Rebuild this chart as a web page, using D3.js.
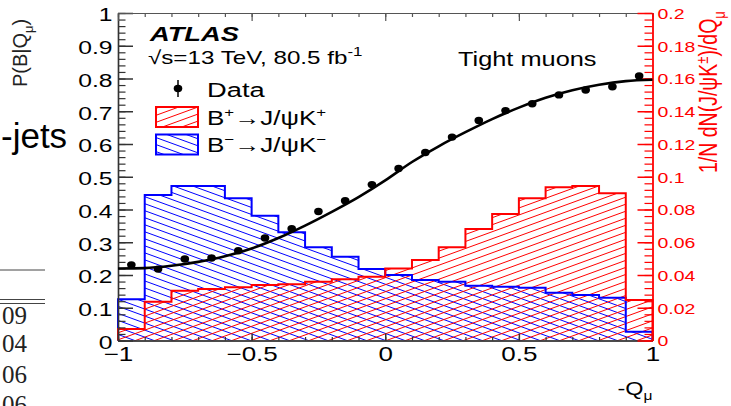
<!DOCTYPE html>
<meta charset="utf-8">
<style>
body { margin: 0; background: #fff; }
svg { display: block; font-family: "Liberation Sans", Arial, sans-serif; }
text.page { font-family: "Liberation Serif", "DejaVu Serif", serif; font-size: 25px; fill: #222; }
</style>
<svg width="731" height="406"></svg>
<script src="https://cdnjs.cloudflare.com/ajax/libs/d3/7.8.5/d3.min.js"></script>
<script>

// bins in -Q_mu
var binEdges = [-1, -0.9, -0.8, -0.7, -0.6, -0.5, -0.4, -0.3, -0.2, -0.1, 0,
                0.1, 0.2, 0.3, 0.4, 0.5, 0.6, 0.7, 0.8, 0.9, 1];
var binCenters = [-0.95, -0.85, -0.75, -0.65, -0.55, -0.45, -0.35, -0.25, -0.15, -0.05,
                  0.05, 0.15, 0.25, 0.35, 0.45, 0.55, 0.65, 0.75, 0.85, 0.95];

// P(B|Q_mu), left axis
var dataP = [0.231, 0.218, 0.249, 0.252, 0.274, 0.313, 0.341, 0.394, 0.427, 0.476,
             0.525, 0.574, 0.621, 0.672, 0.702, 0.723, 0.750, 0.765, 0.775, 0.808];

// 1/N dN/dQ, right axis
var bPlus  = [0.0070, 0.0237, 0.0304, 0.0315, 0.0325, 0.0339, 0.0343, 0.0359, 0.0374, 0.0390,
              0.0440, 0.0492, 0.0569, 0.0681, 0.0773, 0.0868, 0.0936, 0.0943, 0.0899, 0.0247];
var bMinus = [0.0252, 0.0889, 0.0943, 0.0943, 0.0868, 0.0762, 0.0661, 0.0569, 0.0512, 0.0437,
              0.0400, 0.0369, 0.0359, 0.0335, 0.0329, 0.0322, 0.0292, 0.0278, 0.0261, 0.0054];

// fitted curve
var fitX = [-1, -0.9, -0.8, -0.7, -0.6, -0.5, -0.4, -0.3, -0.2, -0.1, 0,
            0.1, 0.2, 0.3, 0.4, 0.5, 0.6, 0.7, 0.8, 0.9, 1];
var fitY = [0.220, 0.221, 0.228, 0.240, 0.257, 0.281, 0.313, 0.351, 0.393, 0.438, 0.489,
            0.545, 0.593, 0.636, 0.676, 0.711, 0.741, 0.764, 0.781, 0.792, 0.796];

var leftTicks = [0, 0.1, 0.2, 0.3, 0.4, 0.5, 0.6, 0.7, 0.8, 0.9, 1];
var leftLabels = ["0", "0.1", "0.2", "0.3", "0.4", "0.5", "0.6", "0.7", "0.8", "0.9", "1"];
var rightTicks = [0, 0.02, 0.04, 0.06, 0.08, 0.1, 0.12, 0.14, 0.16, 0.18, 0.2];
var rightLabels = ["0", "0.02", "0.04", "0.06", "0.08", "0.1", "0.12", "0.14", "0.16", "0.18", "0.2"];
var bottomTicks = [-1, -0.5, 0, 0.5, 1];
var bottomLabels = ["\u22121", "\u22120.5", "0", "0.5", "1"];

var svg = d3.select("svg"),
    frame = {left: 118, right: 652.5, top: 13, bottom: 340.5},
    sx = 1.3; // the reference image is stretched sideways, so text is too

var x = d3.scaleLinear().domain([-1, 1]).range([frame.left, frame.right]),
    yL = d3.scaleLinear().domain([0, 1]).range([frame.bottom, frame.top]),
    yR = d3.scaleLinear().domain([0, 0.2]).range([frame.bottom, frame.top]);

var defs = svg.append("defs");
function hatch(id, color, angle) {
  defs.append("pattern")
      .attr("id", id)
      .attr("patternUnits", "userSpaceOnUse")
      .attr("width", 14).attr("height", 6.6)
      .attr("patternTransform", "rotate(" + angle + ")")
    .append("line")
      .attr("x1", 0).attr("x2", 14).attr("y1", 3.3).attr("y2", 3.3)
      .attr("stroke", color).attr("stroke-width", 1);
}
hatch("hatchRed", "#f00", -20);
hatch("hatchBlue", "#00f", 20);

// stretched text helper
function stext(g, px, py, size, opts) {
  opts = opts || {};
  var t = g.append("text")
      .attr("transform", "translate(" + px + "," + py + ") scale(" + (opts.sx || sx) + ",1)" + (opts.rot ? " rotate(" + opts.rot + ")" : ""))
      .style("font-size", size + "px")
      .attr("fill", opts.fill || "#000");
  if (opts.anchor) t.attr("text-anchor", opts.anchor);
  return t;
}

// ---- histograms
function histPoints(vals) {
  var pts = [[binEdges[0], 0]];
  vals.forEach(function(v, i) { pts.push([binEdges[i], v]); });
  pts.push([binEdges[vals.length], vals[vals.length - 1]]);
  pts.push([binEdges[vals.length], 0]);
  return pts;
}
var histLine = d3.line()
    .x(function(d) { return x(d[0]); })
    .y(function(d) { return yR(d[1]); })
    .curve(d3.curveStepAfter);

svg.append("path").attr("d", histLine(histPoints(bMinus)) + "Z").attr("fill", "url(#hatchBlue)");
svg.append("path").attr("d", histLine(histPoints(bPlus)) + "Z").attr("fill", "url(#hatchRed)");
svg.append("path").attr("d", histLine(histPoints(bMinus)))
    .attr("fill", "none").attr("stroke", "#00f").attr("stroke-width", 2);
svg.append("path").attr("d", histLine(histPoints(bPlus)))
    .attr("fill", "none").attr("stroke", "#f00").attr("stroke-width", 2);

// ---- axes
function styleAxis(g, color, width) {
  g.attr("font-family", null).attr("font-size", null);
  g.selectAll("path, line").attr("stroke", color).attr("stroke-width", width);
}

// left
var gLm = svg.append("g").attr("transform", "translate(" + frame.left + ",0)")
    .call(d3.axisLeft(yL).tickValues(d3.range(0, 1.001, 0.02)).tickSizeInner(-7.5).tickSizeOuter(0).tickFormat(""));
styleAxis(gLm, "#333", 1.2);
var gL = svg.append("g").attr("transform", "translate(" + frame.left + ",0)")
    .call(d3.axisLeft(yL).tickValues(leftTicks).tickSizeInner(-15).tickSizeOuter(0)
      .tickFormat(function(d, i) { return leftLabels[i]; }));
styleAxis(gL, "#333", 1.5);
gL.selectAll("text")
    .attr("x", -5.5 / sx).attr("dy", "0.42em")
    .attr("transform", "scale(" + sx + ",1)")
    .attr("fill", "#000").style("font-size", "19px");

// bottom
var gBm = svg.append("g").attr("transform", "translate(0," + frame.bottom + ")")
    .call(d3.axisBottom(x).tickValues(d3.range(-1, 1.001, 0.1)).tickSizeInner(-3.5).tickSizeOuter(0).tickFormat(""));
styleAxis(gBm, "#333", 1.2);
var gB = svg.append("g").attr("transform", "translate(0," + frame.bottom + ")")
    .call(d3.axisBottom(x).tickValues(bottomTicks).tickSizeInner(-7).tickSizeOuter(0).tickPadding(6)
      .tickFormat(function(d, i) { return bottomLabels[i]; }));
styleAxis(gB, "#333", 1.5);
gB.selectAll("text")
    .attr("transform", "scale(" + sx + ",1)")
    .attr("fill", "#000").style("font-size", "20px");

// top (no labels)
var gTm = svg.append("g").attr("transform", "translate(0," + frame.top + ")")
    .call(d3.axisTop(x).tickValues(d3.range(-1, 1.001, 0.1)).tickSizeInner(-4).tickSizeOuter(0).tickFormat(""));
styleAxis(gTm, "#555", 1.2);
var gT = svg.append("g").attr("transform", "translate(0," + frame.top + ")")
    .call(d3.axisTop(x).tickValues(bottomTicks).tickSizeInner(-8).tickSizeOuter(0).tickFormat(""));
styleAxis(gT, "#555", 1.2);

// right (red)
var gRm = svg.append("g").attr("transform", "translate(" + frame.right + ",0)")
    .call(d3.axisRight(yR).tickValues(d3.range(0, 0.2001, 0.004)).tickSizeInner(-8).tickSizeOuter(0).tickFormat(""));
styleAxis(gRm, "#f00", 1.2);
var gR = svg.append("g").attr("transform", "translate(" + frame.right + ",0)")
    .call(d3.axisRight(yR).tickValues(rightTicks).tickSizeInner(-15).tickSizeOuter(0)
      .tickFormat(function(d, i) { return rightLabels[i]; }));
styleAxis(gR, "#f00", 1.5);
gR.selectAll("text")
    .attr("x", 5 / sx).attr("dy", "0.36em")
    .attr("transform", "scale(" + sx + ",1)")
    .attr("fill", "#f00").style("font-size", "15px");

// ---- fit curve and data
svg.append("path")
    .attr("d", d3.line()
      .x(function(d, i) { return x(fitX[i]); })
      .y(function(d) { return yL(d); })
      .curve(d3.curveMonotoneX)(fitY))
    .attr("fill", "none").attr("stroke", "#000").attr("stroke-width", 2.6);

svg.selectAll(".pt")
    .data(dataP)
  .enter().append("ellipse")
    .attr("class", "pt")
    .attr("cx", function(d, i) { return x(binCenters[i]); })
    .attr("cy", function(d) { return yL(d); })
    .attr("rx", 4.3).attr("ry", 3.7)
    .attr("fill", "#000");

// ---- axis titles
var xt = stext(svg, frame.right, 395, 18, {anchor: "end"});
xt.append("tspan").text("-Q");
xt.append("tspan").text("\u03bc").style("font-size", "12px").attr("dy", 5);

var rt = stext(svg, 717, 173, 19.5, {rot: -90, fill: "#f00"});
rt.append("tspan").text("1/N dN(J/\u03c8K");
rt.append("tspan").text("\u00b1").style("font-size", "13px").attr("dy", -7);
rt.append("tspan").text(")/dQ").attr("dy", 7);
rt.append("tspan").text("\u03bc").style("font-size", "13px").attr("dy", 6);

// ---- legend and labels
stext(svg, 150, 41, 21).text("ATLAS").style("font-weight", "bold").style("font-style", "italic");

var en = stext(svg, 148, 64, 18.6);
en.append("tspan").text("\u221as=13 TeV, 80.5 fb");
en.append("tspan").text("-1").style("font-size", "13px").attr("dy", -8);

stext(svg, 458, 66, 19.5).text("Tight muons");

svg.append("line").attr("x1", 178).attr("x2", 178).attr("y1", 80).attr("y2", 97)
    .attr("stroke", "#000").attr("stroke-width", 1.5);
svg.append("ellipse").attr("cx", 178).attr("cy", 88.5).attr("rx", 4.3).attr("ry", 3.7).attr("fill", "#000");
stext(svg, 207, 97, 21).text("Data");

svg.append("rect").attr("x", 156).attr("y", 107).attr("width", 42).attr("height", 20)
    .attr("fill", "url(#hatchRed)").attr("stroke", "#f00").attr("stroke-width", 2);
var lp = stext(svg, 207, 125, 20);
lp.append("tspan").text("B");
lp.append("tspan").text("+").style("font-size", "13px").attr("dy", -8);
lp.append("tspan").text("\u2192J/\u03c8K").attr("dy", 8);
lp.append("tspan").text("+").style("font-size", "13px").attr("dy", -8);

svg.append("rect").attr("x", 156).attr("y", 134.5).attr("width", 42).attr("height", 20)
    .attr("fill", "url(#hatchBlue)").attr("stroke", "#00f").attr("stroke-width", 2);
var lm = stext(svg, 207, 152, 20);
lm.append("tspan").text("B");
lm.append("tspan").text("\u2212").style("font-size", "13px").attr("dy", -8);
lm.append("tspan").text("\u2192J/\u03c8K").attr("dy", 8);
lm.append("tspan").text("\u2212").style("font-size", "13px").attr("dy", -8);

// ---- bits of the surrounding page
var py = stext(svg, 27, 87, 20, {sx: 1, rot: -90, fill: "#222"});
py.append("tspan").text("P(B|Q");
py.append("tspan").text("\u03bc").style("font-size", "13px").attr("dy", 6);
py.append("tspan").text(")").attr("dy", -6);

stext(svg, 1, 148, 35, {sx: 1}).text("-jets");

[270, 299.5, 303.5].forEach(function(yy) {
  svg.append("line").attr("x1", 0).attr("x2", 45).attr("y1", yy).attr("y2", yy)
      .attr("stroke", "#444").attr("stroke-width", 1);
});
var pageNums = ["09", "04", "06", "06"];
var pageBase = [324, 352, 382.5, 413];
pageNums.forEach(function(s, i) {
  svg.append("text").attr("class", "page")
      .attr("x", 27).attr("y", pageBase[i]).attr("text-anchor", "end")
      .text(s);
});

</script>
